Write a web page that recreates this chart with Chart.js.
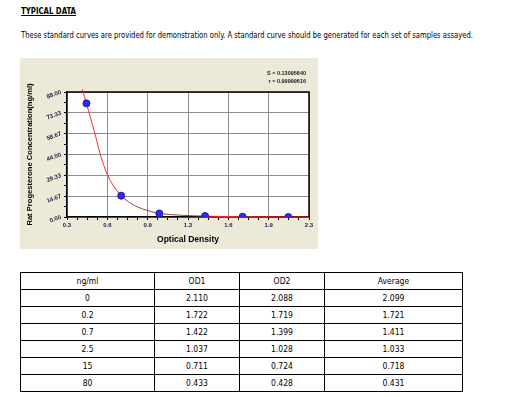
<!DOCTYPE html>
<html>
<head>
<meta charset="utf-8">
<script src="https://cdn.jsdelivr.net/npm/chart.js@4"></script>
<style>
  html, body { margin: 0; padding: 0; background: #fff; }
  body { width: 527px; height: 397px; position: relative; overflow: hidden;
         font-family: "Liberation Sans Narrow", "DejaVu Sans Condensed", Arial, sans-serif; color: #000; }
  .txt { position: absolute; white-space: nowrap; transform-origin: 0 0; }
  #title { left: 21px; top: 6px; font-size: 9px; font-weight: bold; text-decoration: underline; }
  #note { left: 21px; top: 29px; font-size: 9.5px; }
  #panel { position: absolute; left: 20px; top: 58px; width: 298px; height: 191px; background: #ece9d8; }
  .stat { position: absolute; right: 12px; font-size: 5.5px; font-weight: bold; white-space: nowrap; color: #222;
          font-family: "Liberation Sans", Arial, sans-serif; }
  #tbl { position: absolute; left: 20px; top: 272px; border-collapse: collapse; table-layout: fixed; }
  #tbl td { border: 1px solid #000; height: 16px; padding: 0; text-align: center;
            font-size: 8.5px; line-height: 16px; }
</style>
</head>
<body>
<div id="title" class="txt" data-w="55">TYPICAL DATA</div>
<div id="note" class="txt" data-w="452">These standard curves are provided for demonstration only. A standard curve should be generated for each set of samples assayed.</div>
<div id="panel">
  <canvas id="curve" width="298" height="191"></canvas>
  <div class="stat" style="top:12px">S = 0.13095640</div>
  <div class="stat" style="top:20px">r = 0.99999616</div>
</div>
<table id="tbl"></table>

<script>
// standards (table + plotted points)
const concentrations = [0, 0.2, 0.7, 2.5, 15, 80];
const od1 = ['2.110', '1.722', '1.422', '1.037', '0.711', '0.433'];
const od2 = ['2.088', '1.719', '1.399', '1.028', '0.724', '0.428'];
const odAverage = ['2.099', '1.721', '1.411', '1.033', '0.718', '0.431'];
const tableHeader = ['ng/ml', 'OD1', 'OD2', 'Average'];

// fitted curve
const curveX = [0.395, 0.431, 0.46, 0.50, 0.545, 0.605, 0.65, 0.718, 0.80, 0.90, 1.033, 1.20, 1.411, 1.721, 2.10, 2.27];
const curveY = [90, 80, 71, 59, 44, 29.5, 22.5, 15, 9.5, 5.5, 2.6, 1.3, 0.6, 0.2, 0.05, 0];

// axes
const xTickLabels = ['0.3', '0.6', '0.9', '1.3', '1.6', '1.9', '2.3'];
const yTickLabels = ['0.00', '14.67', '29.33', '44.00', '58.67', '73.33', '88.00'];
const xRange = [0.27, 2.27];
const yRange = [0, 88];

const FONT = '"Liberation Sans", Arial, sans-serif';
const X_SUB = 4, Y_SUB = 2;

// table
const tbl = document.getElementById('tbl');
const colW = [133, 84, 84, 137];
function addRow(cells) {
  const tr = document.createElement('tr');
  cells.forEach((c, i) => {
    const td = document.createElement('td');
    td.textContent = c;
    td.style.width = colW[i] + 'px';
    tr.appendChild(td);
  });
  tbl.appendChild(tr);
}
addRow(tableHeader);
concentrations.forEach((c, i) => addRow([String(c), od1[i], od2[i], odAverage[i]]));

// squeeze text lines to their width in the picture
document.querySelectorAll('.txt[data-w]').forEach(el => {
  const w = el.getBoundingClientRect().width;
  el.style.transform = 'scaleX(' + (parseFloat(el.dataset.w) / w) + ')';
});

function subTicks(range, n, sub) {
  const out = [];
  const step = (range[1] - range[0]) / (n * sub);
  for (let k = 0; k <= n * sub; k++) out.push({ value: range[0] + k * step });
  return out;
}

const plotFrame = {
  id: 'plotFrame',
  beforeDraw(chart) {
    const { ctx, chartArea: a } = chart;
    ctx.save();
    ctx.fillStyle = '#fff';
    ctx.fillRect(a.left, a.top, a.right - a.left, a.bottom - a.top);
    ctx.restore();
  },
  beforeDatasetsDraw(chart) {
    const { ctx, chartArea: a } = chart;
    ctx.save();
    ctx.strokeStyle = '#000';
    ctx.lineWidth = 1.5;
    ctx.beginPath();
    ctx.moveTo(a.left, a.top);
    ctx.lineTo(a.right, a.top);
    ctx.lineTo(a.right, a.bottom);
    ctx.stroke();
    ctx.restore();
  }
};

new Chart(document.getElementById('curve'), {
  type: 'scatter',
  data: {
    datasets: [
      {
        label: 'Standards',
        data: concentrations.map((c, i) => ({ x: parseFloat(odAverage[i]), y: c })),
        backgroundColor: '#2a2af0',
        borderColor: '#1c1cb0',
        borderWidth: 1,
        pointRadius: 3.5,
        order: 0
      },
      {
        label: 'Fit',
        type: 'line',
        data: curveX.map((x, i) => ({ x, y: curveY[i] })),
        borderColor: '#ff2a2a',
        borderWidth: 1,
        pointRadius: 0,
        fill: false,
        cubicInterpolationMode: 'monotone',
        clip: { left: 0, top: 4, right: 0, bottom: 0 },
        segment: {
          borderColor: c => (c.p0.parsed.x >= 0.71 && c.p0.parsed.x < 1.4) ? '#93483a' : '#ff2a2a'
        },
        order: 1
      }
    ]
  },
  options: {
    responsive: false,
    animation: false,
    layout: { padding: { top: 34, right: 9, left: 0, bottom: 0 } },
    plugins: { legend: { display: false }, tooltip: { enabled: false } },
    scales: {
      x: {
        type: 'linear', min: xRange[0], max: xRange[1],
        afterBuildTicks: s => { s.ticks = subTicks(xRange, xTickLabels.length - 1, X_SUB); },
        afterFit: s => { s.height = 32; },
        ticks: {
          autoSkip: false, maxRotation: 0, padding: 2,
          color: '#23234a', font: { family: FONT, size: 6, weight: 'bold' },
          callback: (v, i) => i % X_SUB === 0 ? xTickLabels[i / X_SUB] : ''
        },
        grid: {
          color: c => c.index % X_SUB === 0 ? '#8c8c8c' : 'rgba(0,0,0,0)',
          tickColor: '#000', tickLength: 3, lineWidth: 1
        },
        border: { color: '#000', width: 1.5 },
        title: { display: true, text: 'Optical Density', color: '#000',
                 font: { family: FONT, size: 8.5, weight: 'bold' }, padding: { top: 0, bottom: 4 } }
      },
      y: {
        type: 'linear', min: yRange[0], max: yRange[1],
        afterBuildTicks: s => { s.ticks = subTicks(yRange, yTickLabels.length - 1, Y_SUB); },
        afterFit: s => { s.width = 47; },
        ticks: {
          autoSkip: false, minRotation: 20, maxRotation: 20, padding: 3,
          color: '#23234a', font: { family: FONT, size: 6, weight: 'bold' },
          callback: (v, i) => i % Y_SUB === 0 ? yTickLabels[i / Y_SUB] : ''
        },
        grid: {
          color: c => c.index % Y_SUB === 0 ? '#8c8c8c' : 'rgba(0,0,0,0)',
          tickColor: '#000', tickLength: 3, lineWidth: 1
        },
        border: { color: '#000', width: 1.5 },
        title: { display: true, text: 'Rat Progesterone Concentration(ng/ml)', color: '#000',
                 font: { family: FONT, size: 7.6, weight: 'bold' }, padding: { top: 5, bottom: 0 } }
      }
    }
  },
  plugins: [plotFrame]
});
</script>
</body>
</html>
